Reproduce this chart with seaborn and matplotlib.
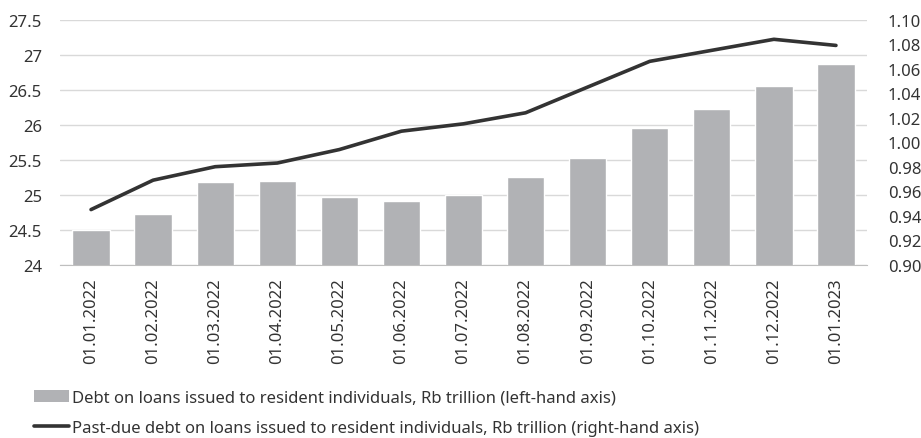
"""Loans to resident individuals: debt (bars) and past-due debt (line)."""

import matplotlib.pyplot as plt
import numpy as np
import seaborn as sns
from matplotlib.lines import Line2D
from matplotlib.patches import Patch
from matplotlib.ticker import FixedLocator, FuncFormatter

dates = [
    "01.01.2022", "01.02.2022", "01.03.2022", "01.04.2022", "01.05.2022",
    "01.06.2022", "01.07.2022", "01.08.2022", "01.09.2022", "01.10.2022",
    "01.11.2022", "01.12.2022", "01.01.2023",
]
debt = [24.49, 24.73, 25.18, 25.20, 24.97, 24.91, 25.00, 25.25, 25.53, 25.95, 26.22, 26.55, 26.87]
past_due = [0.945, 0.969, 0.980, 0.983, 0.994, 1.009, 1.015, 1.024, 1.045, 1.066, 1.075, 1.084, 1.079]

left_ticks = [24, 24.5, 25, 25.5, 26, 26.5, 27, 27.5]
right_ticks = [0.90, 0.92, 0.94, 0.96, 0.98, 1.00, 1.02, 1.04, 1.06, 1.08, 1.10]

bar_label = "Debt on loans issued to resident individuals, Rb trillion (left-hand axis)"
line_label = "Past-due debt on loans issued to resident individuals, Rb trillion (right-hand axis)"

BAR_COLOR = "#b1b2b5"
LINE_COLOR = "#333333"
GRID_COLOR = "#d9d9d9"
TEXT_COLOR = "#333333"

sns.set_style("white")
plt.rcParams["font.family"] = ["Noto Sans", "DejaVu Sans"]
plt.rcParams["font.size"] = 12

fig, ax = plt.subplots(figsize=(9.21, 4.39), dpi=100)
fig.subplots_adjust(left=60 / 921, right=867 / 921, bottom=1 - 265.7 / 439, top=1 - 20.7 / 439)

sns.barplot(x=dates, y=debt, color=BAR_COLOR, width=0.6, saturation=1, ax=ax, zorder=2)
ax.set_ylim(left_ticks[0], left_ticks[-1])
ax.set_xlim(-0.5, len(dates) - 0.5)
ax.yaxis.set_major_locator(FixedLocator(left_ticks))
ax.yaxis.set_major_formatter(FuncFormatter(lambda v, _: f"{v:g}"))
ax.grid(axis="y", color=GRID_COLOR, linewidth=1.0, zorder=0)
ax.set_axisbelow(True)
ax.tick_params(axis="y", length=0, pad=13, labelsize=12, colors=TEXT_COLOR)
ax.tick_params(axis="x", which="major", length=0, pad=9, labelsize=12,
               labelrotation=90, colors=TEXT_COLOR)
ax.xaxis.set_minor_locator(FixedLocator(np.arange(-0.5, len(dates), 1.0)))
ax.tick_params(axis="x", which="minor", length=4, width=0.8, color="#bfbfbf")
for side in ["left", "right", "top"]:
    ax.spines[side].set_visible(False)
ax.spines["bottom"].set_color("#bfbfbf")
ax.spines["bottom"].set_linewidth(0.8)
ax.set_xlabel("")
ax.set_ylabel("")

ax2 = ax.twinx()
sns.lineplot(x=np.arange(len(dates)), y=past_due, color=LINE_COLOR, linewidth=2.6, ax=ax2)
ax2.set_ylim(right_ticks[0], right_ticks[-1])
ax2.yaxis.set_major_locator(FixedLocator(right_ticks))
ax2.yaxis.set_major_formatter(FuncFormatter(lambda v, _: f"{v:.2f}"))
ax2.tick_params(axis="y", length=0, pad=15, labelsize=12, colors=TEXT_COLOR)
for side in ["left", "right", "top", "bottom"]:
    ax2.spines[side].set_visible(False)
ax2.set_ylabel("")

handles = [
    Patch(facecolor=BAR_COLOR, edgecolor="none"),
    Line2D([0], [0], color=LINE_COLOR, linewidth=2.6),
]
fig.legend(handles, [bar_label, line_label], loc="upper left",
           bbox_to_anchor=(34 / 921, 1 - 391 / 439), frameon=False, borderpad=0,
           borderaxespad=0, handlelength=2.1, handletextpad=0.2, labelspacing=0.85,
           fontsize=12, labelcolor=TEXT_COLOR)

fig.savefig("out.png", dpi=100)
plt.close(fig)
